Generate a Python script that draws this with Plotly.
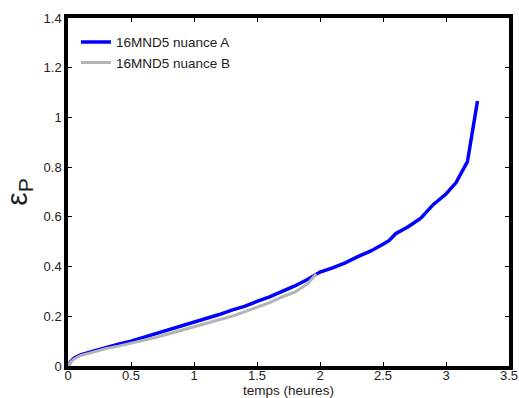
import plotly.graph_objects as go

# Series A (16MND5 nuance A)
t_a = [0, 0.02, 0.05, 0.1, 0.2, 0.3, 0.4, 0.5, 0.6, 0.7, 0.8, 0.9, 1.0, 1.1, 1.2, 1.3,
       1.4, 1.5, 1.6, 1.7, 1.8, 1.9, 2.0, 2.1, 2.2, 2.3, 2.4, 2.5, 2.55, 2.6, 2.7,
       2.8, 2.85, 2.9, 3.0, 3.08, 3.17, 3.25]
eps_a = [0, 0.018, 0.032, 0.045, 0.06, 0.075, 0.088, 0.1, 0.115, 0.13, 0.145, 0.163, 0.177,
         0.19, 0.207, 0.225, 0.24, 0.26, 0.278, 0.3, 0.322, 0.348, 0.378, 0.395, 0.415, 0.44,
         0.462, 0.49, 0.505, 0.532, 0.56, 0.595, 0.625, 0.65, 0.692, 0.738, 0.822, 1.066]

# Series B (16MND5 nuance B)
t_b = [0, 0.02, 0.05, 0.1, 0.2, 0.3, 0.4, 0.5, 0.6, 0.7, 0.8, 0.9, 1.0, 1.1, 1.2, 1.3,
       1.4, 1.5, 1.6, 1.7, 1.8, 1.9, 1.97]
eps_b = [0, 0.016, 0.028, 0.042, 0.056, 0.07, 0.08, 0.091, 0.103, 0.115, 0.13, 0.144, 0.157,
         0.17, 0.185, 0.2, 0.218, 0.235, 0.255, 0.278, 0.297, 0.33, 0.37]

x_ticks = [0, 0.5, 1, 1.5, 2, 2.5, 3, 3.5]
x_tick_labels = ["0", "0.5", "1", "1.5", "2", "2.5", "3", "3.5"]
y_ticks = [0, 0.2, 0.4, 0.6, 0.8, 1.0, 1.2, 1.4]
y_tick_labels = ["0", "0.2", "0.4", "0.6", "0.8", "1", "1.2", "1.4"]

font_family = "Liberation Sans, Arial, Helvetica, sans-serif"

fig = go.Figure()
fig.add_trace(go.Scatter(x=t_a, y=eps_a, mode="lines", name="16MND5 nuance A",
                         line=dict(color="#0000ff", width=3.5)))
fig.add_trace(go.Scatter(x=t_b, y=eps_b, mode="lines", name="16MND5 nuance B",
                         line=dict(color="#b4b4b4", width=3)))

axis_common = dict(showline=True, linecolor="black", linewidth=3.5, mirror="ticks",
                   ticks="inside", ticklen=4, tickwidth=1, tickcolor="black",
                   showgrid=False, zeroline=False, automargin=False,
                   tickfont=dict(family=font_family, size=13, color="#222"))

fig.update_xaxes(range=[0, 3.5], tickvals=x_ticks, ticktext=x_tick_labels,
                 ticklabelstandoff=-5,
                 title=dict(text="temps (heures)", font=dict(family=font_family, size=13.5, color="#222"),
                            standoff=0),
                 **axis_common)
fig.update_yaxes(range=[0, 1.4], tickvals=y_ticks, ticktext=y_tick_labels,
                 title=dict(text="ε<sub>P</sub>", font=dict(family=font_family, size=30, color="#222"),
                            standoff=10),
                 **axis_common)

fig.update_layout(
    width=519, height=398,
    margin=dict(l=68, r=10, t=18, b=32),
    paper_bgcolor="white", plot_bgcolor="white",
    showlegend=True,
    legend=dict(x=0.018, y=0.975, xanchor="left", yanchor="top",
                bgcolor="rgba(0,0,0,0)", font=dict(family=font_family, size=13.5, color="#222"),
                tracegroupgap=0, itemwidth=30),
)

# remove the default 8px page margin so the figure fills the window exactly
fig.write_html("out.html", config={"displayModeBar": False},
               post_script="document.body.style.margin='0';document.body.style.overflow='hidden';")
